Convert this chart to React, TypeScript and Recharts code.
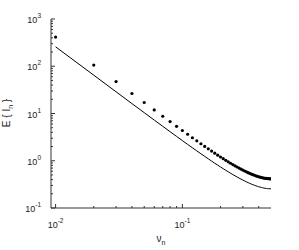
import React from 'react';
import { ComposedChart, Line, Scatter, XAxis, YAxis } from 'recharts';

// nu_n sample points
const nuValues = [
  0.01, 0.02, 0.03, 0.04, 0.05, 0.06, 0.07, 0.08, 0.09, 0.1,
  0.11, 0.12, 0.13, 0.14, 0.15, 0.16, 0.17, 0.18, 0.19, 0.2,
  0.21, 0.22, 0.23, 0.24, 0.25, 0.26, 0.27, 0.28, 0.29, 0.3,
  0.31, 0.32, 0.33, 0.34, 0.35, 0.36, 0.37, 0.38, 0.39, 0.4,
  0.41, 0.42, 0.43, 0.44, 0.45, 0.46, 0.47, 0.48, 0.49, 0.5,
];

// dots: measured E{I_n}
const measuredValues = [
  415, 106, 47.3, 26.5, 17.1, 11.9, 8.75, 6.74, 5.36, 4.37,
  3.64, 3.07, 2.64, 2.29, 2.01, 1.79, 1.6, 1.445, 1.314, 1.201,
  1.105, 1.021, 0.949, 0.886, 0.83, 0.781, 0.738, 0.699, 0.665, 0.634,
  0.607, 0.582, 0.56, 0.54, 0.523, 0.507, 0.493, 0.48, 0.469, 0.459,
  0.45, 0.442, 0.436, 0.43, 0.425, 0.422, 0.419, 0.417, 0.415, 0.415,
];

// solid line
const boundValues = [
  258, 64.7, 28.8, 16.2, 10.42, 7.26, 5.36, 4.12, 3.28, 2.67,
  2.22, 1.88, 1.617, 1.407, 1.237, 1.099, 0.984, 0.888, 0.807, 0.738,
  0.679, 0.628, 0.583, 0.544, 0.51, 0.48, 0.453, 0.43, 0.408, 0.39,
  0.373, 0.358, 0.344, 0.332, 0.321, 0.311, 0.303, 0.295, 0.288, 0.282,
  0.277, 0.272, 0.268, 0.264, 0.261, 0.259, 0.257, 0.256, 0.255, 0.255,
];

const xMajorTicks = [0.01, 0.1];
const xExponents = ['-2', '-1'];
const xMinorTicks = [0.02, 0.03, 0.04, 0.05, 0.06, 0.07, 0.08, 0.09, 0.2, 0.3, 0.4];

const yMajorTicks = [0.1, 1, 10, 100, 1000];
const yExponents = ['-1', '0', '1', '2', '3'];
const yMinorTicks = [
  0.2, 0.3, 0.4, 0.5, 0.6, 0.7, 0.8, 0.9,
  2, 3, 4, 5, 6, 7, 8, 9,
  20, 30, 40, 50, 60, 70, 80, 90,
  200, 300, 400, 500, 600, 700, 800, 900,
];

const measuredData = nuValues.map((x, i) => ({ x, y: measuredValues[i] }));
const boundData = nuValues.map((x, i) => ({ x, y: boundValues[i] }));

const AXIS = '#333';
const TEXT = '#222';
const FONT = '"Liberation Sans", Arial, sans-serif';
const MAJOR = 4;
const MINOR = 2;

const majorIndex = (v: number, majors: number[]) =>
  majors.findIndex((m) => Math.abs(m - v) < 1e-9);

const BottomTick = ({ x, y, payload }: any) => {
  const i = majorIndex(payload.value, xMajorTicks);
  return (
    <g>
      <line x1={x} x2={x} y1={y} y2={y - (i >= 0 ? MAJOR : MINOR)} stroke={AXIS} />
      {i >= 0 && (
        <text x={x} y={y + 20} textAnchor="middle" fontSize={9} fill={TEXT} fontFamily={FONT}>
          10<tspan dy={-5} fontSize={6.5}>{xExponents[i]}</tspan>
        </text>
      )}
    </g>
  );
};

const TopTick = ({ x, y, payload }: any) => {
  const i = majorIndex(payload.value, xMajorTicks);
  return <line x1={x} x2={x} y1={y} y2={y + (i >= 0 ? MAJOR : MINOR)} stroke={AXIS} />;
};

const LeftTick = ({ x, y, payload }: any) => {
  const i = majorIndex(payload.value, yMajorTicks);
  return (
    <g>
      <line x1={x} x2={x + (i >= 0 ? MAJOR : MINOR)} y1={y} y2={y} stroke={AXIS} />
      {i >= 0 && (
        <text x={x - 10} y={y + 4} textAnchor="end" fontSize={9} fill={TEXT} fontFamily={FONT}>
          10<tspan dy={-5} fontSize={6.5}>{yExponents[i]}</tspan>
        </text>
      )}
    </g>
  );
};

const RightTick = ({ x, y, payload }: any) => {
  const i = majorIndex(payload.value, yMajorTicks);
  return <line x1={x} x2={x - (i >= 0 ? MAJOR : MINOR)} y1={y} y2={y} stroke={AXIS} />;
};

const Dot = ({ cx, cy }: any) => <circle cx={cx} cy={cy} r={1.6} fill="#000" />;

const xTicks = [...xMajorTicks, ...xMinorTicks].sort((a, b) => a - b);
const yTicks = [...yMajorTicks, ...yMinorTicks].sort((a, b) => a - b);
const xDomain = [0.0092, 0.5];
const yDomain = [0.1, 1000];

export default function App() {
  return (
    <div style={{ position: 'absolute', left: 0, top: 0, width: 299, height: 250, background: '#fff' }}>
      <ComposedChart width={299} height={250} margin={{ top: 19, right: 28, bottom: 0, left: 0 }}>
        <XAxis
          xAxisId="bottom"
          dataKey="x"
          type="number"
          scale="log"
          domain={xDomain}
          allowDataOverflow
          ticks={xTicks}
          interval={0}
          height={42}
          tickSize={0}
          tickMargin={0}
          tickLine={false}
          axisLine={{ stroke: AXIS }}
          tick={<BottomTick />}
        />
        <XAxis
          xAxisId="top"
          orientation="top"
          dataKey="x"
          type="number"
          scale="log"
          domain={xDomain}
          allowDataOverflow
          ticks={xTicks}
          interval={0}
          height={0}
          tickSize={0}
          tickMargin={0}
          tickLine={false}
          axisLine={{ stroke: AXIS }}
          tick={<TopTick />}
        />
        <YAxis
          yAxisId="left"
          dataKey="y"
          type="number"
          scale="log"
          domain={yDomain}
          allowDataOverflow
          ticks={yTicks}
          interval={0}
          width={51}
          tickSize={0}
          tickMargin={0}
          tickLine={false}
          axisLine={{ stroke: AXIS }}
          tick={<LeftTick />}
        />
        <YAxis
          yAxisId="right"
          orientation="right"
          dataKey="y"
          type="number"
          scale="log"
          domain={yDomain}
          allowDataOverflow
          ticks={yTicks}
          interval={0}
          width={0}
          tickSize={0}
          tickMargin={0}
          tickLine={false}
          axisLine={{ stroke: AXIS }}
          tick={<RightTick />}
        />
        <Line
          xAxisId="top"
          yAxisId="right"
          data={boundData}
          dataKey="y"
          stroke="none"
          dot={false}
          activeDot={false}
          isAnimationActive={false}
        />
        <Line
          xAxisId="bottom"
          yAxisId="left"
          data={boundData}
          dataKey="y"
          type="linear"
          stroke="#000"
          strokeWidth={1}
          dot={false}
          activeDot={false}
          isAnimationActive={false}
        />
        <Scatter
          xAxisId="bottom"
          yAxisId="left"
          data={measuredData}
          dataKey="y"
          shape={<Dot />}
          isAnimationActive={false}
        />
      </ComposedChart>
      <svg width={299} height={250} style={{ position: 'absolute', left: 0, top: 0, pointerEvents: 'none' }}>
        <text
          transform="translate(10,113) rotate(-90)"
          textAnchor="middle"
          fontSize={10}
          fill={TEXT}
          fontFamily={FONT}
        >
          E {'{'} I<tspan dy={2.5} fontSize={7}>n</tspan>
          <tspan dy={-2.5}> {'}'}</tspan>
        </text>
        <text x={161} y={242} textAnchor="middle" fontSize={10} fill={TEXT} fontFamily={FONT}>
          ν<tspan dy={3} fontSize={7}>n</tspan>
        </text>
      </svg>
    </div>
  );
}
